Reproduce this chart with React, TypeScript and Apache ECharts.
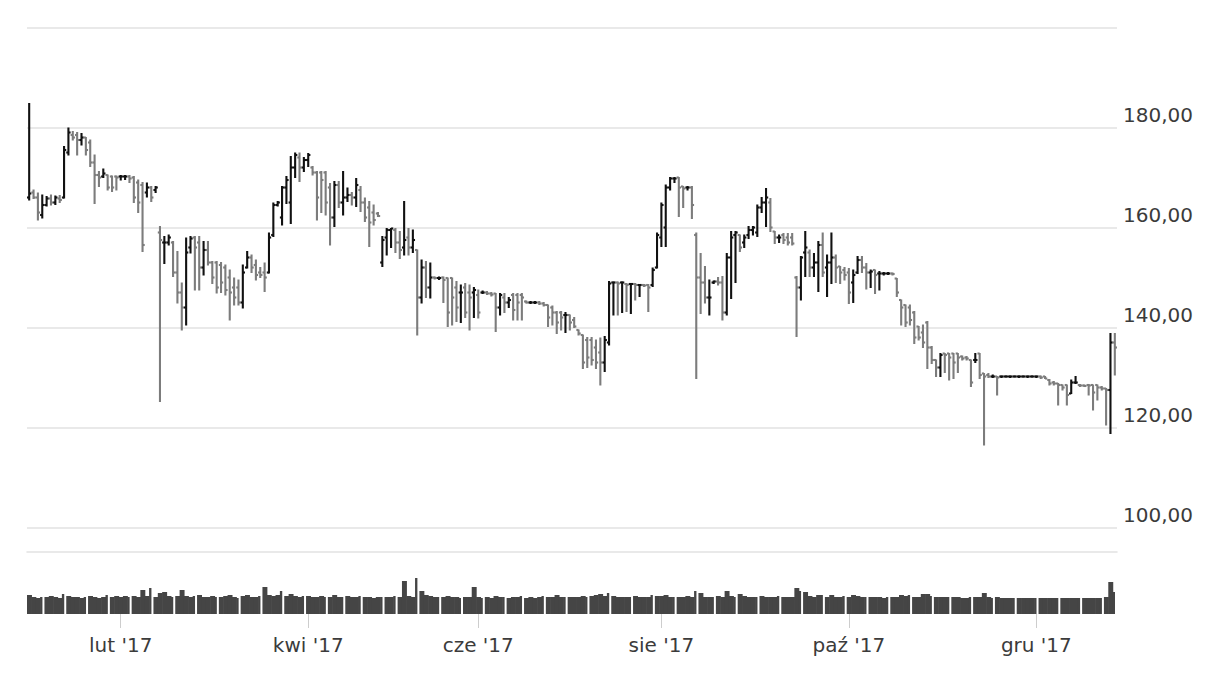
import { useEffect, useRef } from 'react';
import * as echarts from 'echarts';

// ---- calendar (GPW trading days 2017) ----
const HOLIDAYS = ['2017-01-06', '2017-04-14', '2017-04-17', '2017-05-01', '2017-05-03', '2017-06-15', '2017-08-15', '2017-11-01', '2017-12-25', '2017-12-26'];
const MONTH_NAMES = ['sty', 'lut', 'mar', 'kwi', 'maj', 'cze', 'lip', 'sie', 'wrz', 'paź', 'lis', 'gru'];
const LABEL_MONTHS = [1, 3, 5, 7, 9, 11];
const Y_TICKS = [100, 120, 140, 160, 180, 200];

// ---- OHLC per month: [open, high, low, close] ----
const jan = [
  [166, 184.8, 165.5, 166.8], [167, 167.5, 165.8, 166], [166, 166.9, 161.5, 163], [162.5, 166.5, 161.9, 164.5],
  [164.5, 166.2, 164.3, 165.8], [165.8, 166.5, 164.5, 165], [165, 166.3, 164.6, 166], [165.8, 166.4, 165, 165.5],
  [166, 176.2, 165.9, 175.5], [175, 179.9, 174.5, 179], [178.5, 179.2, 177.5, 178], [178.5, 179, 174.5, 177.5],
  [177.5, 178.8, 176.5, 178], [178, 178, 174.5, 175.5], [177, 177.5, 172.2, 173], [173, 174.5, 164.8, 170.5],
  [170.5, 171.2, 168.2, 170], [170.2, 171.7, 170, 170.8], [170.5, 170.5, 167.5, 168], [170.2, 170.3, 167.2, 168],
  [170.2, 170.3, 167.5, 170],
];
const feb = [
  [170.2, 170.4, 169.5, 170.2], [170.2, 170.4, 169.6, 170.2], [170.2, 170.4, 169, 169.8], [170, 170.2, 165, 166],
  [169, 169.5, 163, 165], [168.5, 169, 155.2, 156.5], [167, 168.9, 166.1, 168], [168, 168.2, 165.2, 166],
  [167.5, 168.2, 167, 168], [159, 160.2, 125.2, 157.5], [157, 158.2, 152.8, 157], [157, 158.5, 156.5, 158],
  [157, 157.2, 150.2, 151], [151, 155.2, 144.9, 147], [147, 148.9, 139.5, 144], [144, 157.9, 140.5, 155],
  [156, 158.2, 154.9, 157.8], [158, 158.2, 147.5, 156], [157, 158.2, 147.5, 152], [152, 157.2, 150.5, 155.5],
];
const mar = [
  [155.5, 157.2, 152.5, 153], [153, 153.2, 148.8, 150], [153, 153.2, 146.9, 148], [152.5, 153, 147, 149],
  [152, 152.5, 146.5, 147.5], [150, 151.5, 141.5, 147], [148, 149.9, 144.5, 146], [148, 149.5, 144.5, 145],
  [145, 152.5, 143.9, 151], [152, 155.2, 151.9, 154], [154, 154.5, 151, 152], [152.5, 153.5, 149.5, 150.5],
  [151, 152, 150, 150.5], [151, 152.9, 147.2, 150], [151, 158.9, 150.9, 158], [158.5, 164.9, 158.2, 164.5],
  [164.5, 165.2, 164.3, 165], [162, 168.2, 160.5, 168], [168, 170.2, 164.8, 169.5], [165, 174.2, 160.8, 172],
  [172, 174.9, 170, 174.5], [174, 174.9, 169.2, 172], [172, 174, 171.2, 173.5],
];
const apr = [
  [173.5, 174.8, 172.2, 174.5], [172, 172.2, 170.5, 171], [171, 171.2, 161.5, 166], [171, 171.2, 163, 169.5],
  [171, 171.2, 162.5, 165], [168, 168.8, 156.5, 162], [162, 169.2, 160.2, 168.5], [168.5, 169.2, 164, 165],
  [165, 171.2, 162.5, 166], [166, 167.9, 165.2, 166.5], [166.5, 167, 164.5, 166], [166, 169.8, 164.2, 168.5],
  [167.5, 168.2, 163.2, 165], [165, 165.9, 161.2, 162], [164, 165.2, 156.2, 161], [163, 164.5, 160.5, 161.5],
  [162.8, 163, 162.2, 162.3], [153, 158.2, 152.2, 157.5],
];
const may = [
  [158, 159.8, 154.5, 159.5], [159.5, 159.8, 156, 159.8], [159.5, 159.8, 155, 157], [157, 159.2, 153.8, 155.5],
  [156, 165.2, 154.5, 157.5], [158, 159.8, 154.5, 156], [156, 159.5, 155, 157.5], [155.5, 155.5, 138.5, 146],
  [146, 153.5, 144.9, 152], [152, 153.2, 146, 148], [148, 152.9, 145.9, 150], [150, 150.1, 149.7, 149.9],
  [149.9, 150.1, 149.6, 149.9], [150, 150.1, 145, 149.5], [149.9, 149.9, 140.2, 143], [149.9, 149.9, 140.5, 146],
  [148, 149.2, 141.2, 144], [147, 148.5, 141, 147], [148, 148.8, 142, 143], [147, 148.5, 139.5, 146],
  [147, 148, 142, 147.5],
];
const jun = [
  [146.5, 147.5, 141.9, 143], [147, 147.3, 146.8, 147], [147, 147.2, 146.6, 146.8], [146.8, 147, 146.3, 146.6],
  [146.8, 146.8, 139.2, 144], [144, 146.8, 142.5, 146.5], [146, 146.8, 143, 145], [145, 146, 144, 145.5],
  [146.5, 146.8, 141.5, 143.5], [146.5, 146.8, 141.5, 145], [146.5, 146.8, 141.5, 146], [145.2, 145.3, 144.9, 145],
  [145, 145.2, 144.8, 145], [145, 145.2, 144.8, 145], [145, 145.2, 144.6, 144.8], [144.8, 145, 144.3, 144.5],
  [144.5, 144.5, 140.2, 142], [144, 144.3, 140.5, 143], [143, 143.2, 138.8, 141], [143, 143.2, 139.5, 142],
  [142.5, 143, 139, 142.5],
];
const jul = [
  [142.5, 142.5, 139.5, 141], [141.5, 142, 140, 140.2], [139.5, 139.5, 138.5, 138.8], [138.5, 138.5, 131.8, 133],
  [137.5, 138, 132, 134], [137.5, 138, 132.5, 133.5], [136, 137.5, 131.8, 133], [135, 137.9, 128.5, 133],
  [133, 138.2, 131.2, 137.5], [137, 149.2, 136.5, 148.8], [149, 149.1, 142.5, 149], [149, 149.1, 142.5, 148.8],
  [149, 149.1, 143, 149], [148.7, 148.8, 143.2, 148.5], [148.7, 148.8, 142.8, 148.7], [148.7, 148.8, 145.5, 148.5],
  [148.5, 148.6, 146.2, 148.5], [148.5, 148.6, 148.2, 148.4], [148.5, 148.6, 143.2, 148], [148.5, 151.9, 148.2, 151.5],
  [152, 158.9, 151.9, 158.5],
];
const aug = [
  [158, 164.9, 156.2, 164.5], [160, 168.5, 156.2, 168], [168, 170, 167.5, 169.8], [169.8, 170, 169, 169.8],
  [170, 170, 162.2, 168], [168.2, 168.2, 164, 167.8], [168, 168.2, 167.5, 168], [168, 168.2, 161.8, 164.5],
  [158.5, 158.9, 129.8, 150], [150, 154.8, 142.8, 149], [149, 152.2, 144.9, 146], [146, 149.5, 142.5, 146],
  [149, 149.3, 148.8, 149.2], [149.2, 150, 148.5, 149], [149, 150.2, 141.5, 143], [143, 154.8, 142.5, 154],
  [154, 159.2, 145.8, 158], [158.5, 159.2, 149, 159], [158.5, 158.5, 155.2, 156], [157, 158.5, 156, 158],
  [158.5, 160.2, 157.8, 159.5], [159.5, 160.2, 158.5, 160],
];
const sep = [
  [159, 164.5, 158.2, 164], [164, 166, 163, 165], [165, 167.8, 160.2, 166], [165, 165.8, 159.2, 160],
  [159.2, 159.2, 156.8, 158], [158, 158.5, 157, 158], [158.5, 158.8, 156.8, 157.5], [158, 158.8, 156.5, 157],
  [158, 158.8, 156.5, 156.8], [150, 150.2, 138.2, 148], [148, 154.2, 145.5, 154], [155, 159.2, 150.2, 156],
  [155, 155.5, 150.2, 152], [152, 154.8, 150.2, 153], [153, 157.2, 147.2, 156.5], [156.5, 158.9, 150.2, 151],
  [152, 154.5, 146.2, 153], [153, 158.9, 148.8, 154], [154, 154.5, 149, 152], [152.2, 152.2, 148.8, 151],
  [151.5, 152, 149.5, 150.5],
];
const oct = [
  [151, 151.8, 144.8, 147], [149, 151.5, 145, 150.5], [151, 154.2, 150.8, 153.5], [153.5, 154.2, 151, 152],
  [152, 152.8, 147.7, 151], [151, 151.5, 148, 151.2], [151.5, 151.5, 146.8, 150.5], [150.8, 151.2, 147.5, 150.8],
  [150.8, 151, 150.5, 150.8], [150.8, 151, 150.6, 150.8], [150.8, 150.9, 150.5, 150.7], [149.8, 149.8, 146.2, 147],
  [145.5, 145.5, 140.5, 144], [144.5, 144.5, 140.2, 141], [144, 144.5, 140.5, 141.5], [143, 143.2, 136.8, 138],
  [140.2, 140.2, 137.5, 138], [139, 140.5, 136, 137], [141, 141.2, 131.8, 136], [136, 136.2, 132.8, 133.5],
  [133.5, 133.5, 130.2, 132], [132, 134.8, 130.2, 134.5],
];
const nov = [
  [134.8, 134.8, 131, 134.5], [134.8, 134.8, 129.5, 134], [134.8, 134.8, 129.8, 133], [134.8, 134.8, 131, 134],
  [134.2, 134.3, 133.5, 133.8], [134, 134.2, 133.5, 133.8], [133.5, 133.5, 128.2, 129], [133.5, 134.8, 133, 133.5],
  [134.8, 134.8, 129.8, 130.5], [130.8, 130.8, 116.5, 130.2], [130.5, 130.8, 130, 130.2], [130.2, 130.5, 130, 130.2],
  [130.2, 130.2, 126.5, 130], [130.2, 130.3, 130, 130.2], [130.2, 130.3, 130.1, 130.2], [130.2, 130.3, 130, 130.2],
  [130.2, 130.3, 130.1, 130.2], [130.2, 130.3, 130, 130.2], [130.2, 130.3, 130.1, 130.2], [130.2, 130.3, 130, 130.2],
  [130.2, 130.3, 130.1, 130.2],
];
const dec = [
  [130.2, 130.3, 130, 130.2], [130.2, 130.3, 129.8, 130], [130.2, 130.2, 129.8, 129.8], [129.5, 129.6, 128.5, 128.8],
  [129, 129.2, 128.5, 128.8], [128.8, 128.8, 124.5, 128.5], [128.5, 128.5, 127.5, 128], [128.5, 128.5, 124.5, 126.5],
  [126.8, 129.5, 126.8, 129], [129, 130.2, 128.8, 129], [128.5, 128.6, 128.2, 128.4], [128.4, 128.5, 128.2, 128.3],
  [128.5, 128.6, 126.5, 128.4], [128.5, 128.5, 123.5, 127], [128.5, 128.5, 125.5, 128], [128, 128.2, 127.5, 127.8],
  [127.8, 127.8, 120.5, 127.5], [127.5, 138.8, 118.8, 137], [137, 138.8, 130.5, 136],
];

// ---- volume per month (thousand shares) ----
const volJan = [18, 16, 15, 16, 16, 17, 16, 15, 19, 17, 16, 16, 15, 16, 17, 16, 15, 16, 18, 16, 17];
const volFeb = [16, 17, 16, 17, 16, 23, 17, 25, 16, 20, 21, 17, 16, 17, 23, 17, 16, 17, 18, 16];
const volMar = [16, 17, 16, 16, 17, 18, 16, 15, 17, 18, 16, 16, 17, 26, 18, 17, 18, 22, 17, 19, 17, 16, 17];
const volApr = [17, 16, 16, 17, 16, 16, 18, 16, 16, 17, 16, 16, 17, 16, 16, 15, 16, 16];
const volMay = [16, 16, 17, 16, 32, 17, 16, 35, 22, 18, 17, 16, 16, 16, 17, 16, 16, 15, 16, 16, 26];
const volJun = [16, 15, 16, 15, 17, 16, 16, 15, 16, 16, 17, 15, 16, 15, 16, 17, 16, 16, 18, 16, 16];
const volJul = [16, 16, 16, 17, 16, 17, 18, 19, 17, 20, 17, 16, 16, 16, 16, 17, 16, 16, 16, 18, 17];
const volAug = [17, 18, 16, 16, 16, 16, 17, 16, 22, 20, 16, 16, 16, 17, 16, 22, 17, 16, 19, 17, 16, 16];
const volSep = [16, 17, 16, 16, 16, 17, 16, 16, 16, 25, 22, 21, 17, 16, 18, 18, 16, 18, 16, 16, 17];
const volOct = [16, 18, 17, 16, 16, 16, 16, 16, 15, 16, 16, 16, 18, 17, 18, 16, 16, 19, 19, 17, 16, 16];
const volNov = [16, 16, 16, 16, 15, 15, 16, 16, 16, 20, 16, 15, 16, 15, 15, 15, 15, 15, 15, 15, 15];
const volDec = [15, 15, 15, 15, 15, 15, 15, 15, 15, 15, 15, 15, 15, 15, 15, 15, 16, 31, 21];

function tradingDays(): string[] {
  const out: string[] = [];
  const d = new Date(Date.UTC(2017, 0, 2));
  const end = Date.UTC(2017, 11, 29);
  while (d.getTime() <= end) {
    const dow = d.getUTCDay();
    const s = d.toISOString().slice(0, 10);
    if (dow !== 0 && dow !== 6 && !HOLIDAYS.includes(s)) out.push(s);
    d.setUTCDate(d.getUTCDate() + 1);
  }
  return out;
}

const FONT = "'DejaVu Sans', sans-serif";
const TEXT_COLOR = '#3b3b3b';
const GRID_COLOR = '#e2e2e2';

export default function App() {
  const ref = useRef<HTMLDivElement>(null);
  useEffect(() => {
    if (!ref.current) return;
    const chart = echarts.init(ref.current, undefined, { renderer: 'svg' });
    const dates = tradingDays();
    const ohlc = [...jan, ...feb, ...mar, ...apr, ...may, ...jun, ...jul, ...aug, ...sep, ...oct, ...nov, ...dec];
    const vols = [...volJan, ...volFeb, ...volMar, ...volApr, ...volMay, ...volJun, ...volJul, ...volAug, ...volSep, ...volOct, ...volNov, ...volDec];
    const n = Math.min(dates.length, ohlc.length);
    const labelIdx = new Set<number>();
    for (let i = 0; i < n; i++) {
      const m = Number(dates[i].slice(5, 7)) - 1;
      const pm = i > 0 ? Number(dates[i - 1].slice(5, 7)) - 1 : -1;
      if (m !== pm && LABEL_MONTHS.includes(m)) labelIdx.add(i);
    }
    const cats = dates.slice(0, n);
    const priceData = ohlc.slice(0, n).map((r, i) => [i, r[0], r[1], r[2], r[3]]);
    const volData = vols.slice(0, n).map((v, i) => {
      let weekEnd = 1;
      if (i < n - 1) {
        const a = new Date(cats[i] + 'T00:00:00Z').getUTCDay();
        const b = new Date(cats[i + 1] + 'T00:00:00Z').getUTCDay();
        weekEnd = b <= a ? 1 : 0;
      }
      return [i, v, weekEnd];
    });
    const showIdx = (index: number) => labelIdx.has(index);

    chart.setOption({
      animation: false,
      backgroundColor: '#ffffff',
      textStyle: { fontFamily: FONT },
      grid: [
        { left: 27, right: 88, top: 27.5, height: 500 },
        { left: 27, right: 88, top: 552, height: 62 },
      ],
      xAxis: [
        {
          type: 'category', gridIndex: 0, data: cats, boundaryGap: true,
          axisLine: { show: false }, axisTick: { show: false }, axisLabel: { show: false }, splitLine: { show: false },
        },
        {
          type: 'category', gridIndex: 1, data: cats, boundaryGap: true,
          axisLine: { show: false },
          axisTick: { show: true, alignWithLabel: true, interval: showIdx, length: 14, lineStyle: { color: '#cdcdcd', width: 1 } },
          axisLabel: {
            interval: showIdx, margin: 21, fontSize: 20, color: TEXT_COLOR, fontFamily: FONT,
            formatter: (v: string) => MONTH_NAMES[Number(v.slice(5, 7)) - 1] + " '" + v.slice(2, 4),
          },
          splitLine: { show: false },
        },
        {
          type: 'category', gridIndex: 1, data: cats, position: 'top', boundaryGap: true,
          axisLine: { show: true, onZero: false, lineStyle: { color: GRID_COLOR, width: 1.5 } },
          axisTick: { show: false }, axisLabel: { show: false }, splitLine: { show: false },
        },
      ],
      yAxis: [
        {
          type: 'value', gridIndex: 0, position: 'right', min: Y_TICKS[0], max: Y_TICKS[Y_TICKS.length - 1], interval: 20,
          axisLine: { show: false }, axisTick: { show: false },
          splitLine: { show: true, lineStyle: { color: GRID_COLOR, width: 1.5 } },
          axisLabel: {
            margin: 6, fontSize: 20, color: TEXT_COLOR, fontFamily: FONT, verticalAlign: 'bottom', padding: [0, 0, 3, 0],
            formatter: (v: number) => (v >= 200 ? '' : v.toFixed(2).replace('.', ',')),
          },
        },
        { type: 'value', gridIndex: 1, min: 0, max: 62, show: false, splitLine: { show: false } },
      ],
      series: [
        {
          type: 'custom', name: 'Kurs', xAxisIndex: 0, yAxisIndex: 0,
          encode: { x: 0, y: [1, 2, 3, 4] },
          data: priceData,
          renderItem: (_p: any, api: any) => {
            const idx = api.value(0);
            const o = api.value(1), h = api.value(2), l = api.value(3), c = api.value(4);
            const pH = api.coord([idx, h]);
            const pL = api.coord([idx, l]);
            const pO = api.coord([idx, o]);
            const pC = api.coord([idx, c]);
            const half = api.size([1, 0])[0] / 2;
            const x = pH[0];
            const color = c < o ? '#7c7c7c' : '#111111';
            const st = { stroke: color, lineWidth: 2.1 };
            return {
              type: 'group',
              children: [
                { type: 'line', shape: { x1: x, y1: pH[1] - 0.5, x2: x, y2: pL[1] + 0.5 }, style: st },
                { type: 'line', shape: { x1: x - half, y1: pO[1], x2: x, y2: pO[1] }, style: st },
                { type: 'line', shape: { x1: x, y1: pC[1], x2: x + half, y2: pC[1] }, style: st },
              ],
            };
          },
        },
        {
          type: 'custom', name: 'Wolumen', xAxisIndex: 1, yAxisIndex: 1,
          encode: { x: 0, y: 1 },
          data: volData,
          renderItem: (_p: any, api: any) => {
            const idx = api.value(0);
            const v = api.value(1);
            const top = api.coord([idx, v + 1]);
            const base = api.coord([idx, 0]);
            const w = api.size([1, 0])[0];
            const left = top[0] - w / 2;
            const width = api.value(2) ? w - 2 : w + 0.6;
            return {
              type: 'rect',
              shape: { x: left, y: top[1], width, height: base[1] - top[1] },
              style: { fill: '#454545', stroke: null },
            };
          },
        },
      ],
    });
    return () => chart.dispose();
  }, []);
  return <div ref={ref} style={{ position: 'absolute', left: 0, top: 0, width: 1205, height: 686 }} />;
}
